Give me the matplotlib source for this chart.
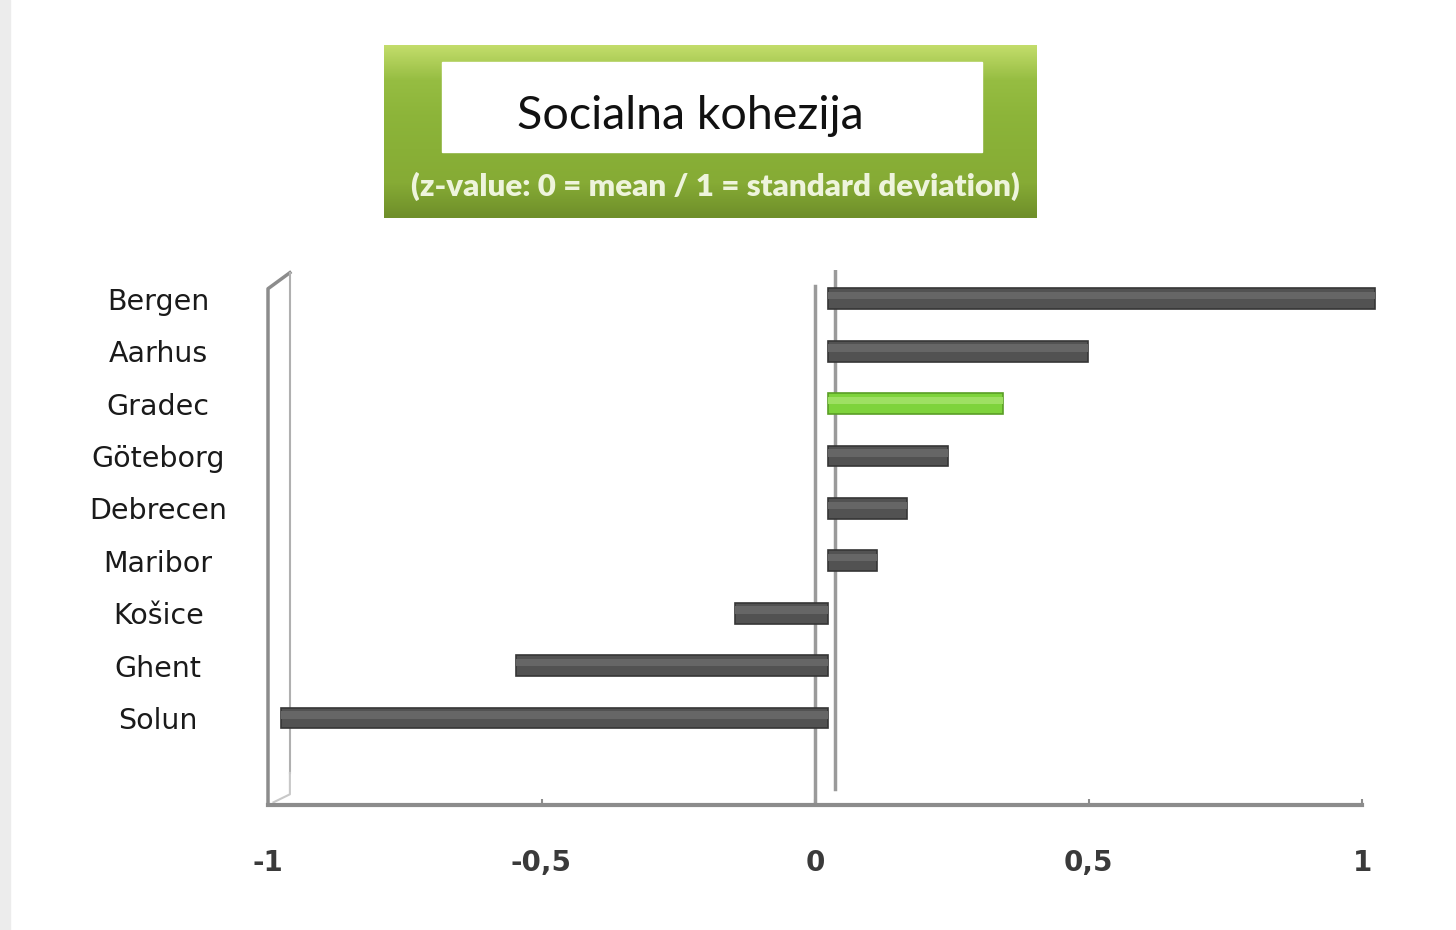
import numpy as np
import matplotlib
matplotlib.use("Agg")
import matplotlib.pyplot as plt
from matplotlib.patches import Rectangle

# data (z-values)
cities = ["Bergen", "Aarhus", "Gradec", "Göteborg", "Debrecen",
          "Maribor", "Košice", "Ghent", "Solun"]
zvals = [1.0, 0.475, 0.32, 0.22, 0.145, 0.09, -0.17, -0.57, -1.0]
highlight = "Gradec"
xticks = [-1, -0.5, 0, 0.5, 1]
xticklabels = ["-1", "-0,5", "0", "0,5", "1"]

depth = 0.024  # 3d offset of the bars behind the front axis

fig = plt.figure(figsize=(14.56, 9.3), dpi=100)

# light grey strip on left edge
fig.patches.append(Rectangle((0, 0), 0.007, 1, transform=fig.transFigure,
                             color="#ececec", zorder=0))

ax = fig.add_axes([268 / 1456, 1 - 805 / 930, 1094 / 1456, 535 / 930])

ypos = np.arange(len(cities))[::-1]
colors = ["#7ed33c" if c == highlight else "#525252" for c in cities]
hi_colors = ["#9ee063" if c == highlight else "#666666" for c in cities]
edge_colors = ["#5a9e26" if c == highlight else "#363636" for c in cities]

ax.barh(ypos, zvals, left=depth, height=0.40, color=colors,
        edgecolor=edge_colors, linewidth=1.2, zorder=3, clip_on=False)
# lighter upper strip to fake the rounded 3d look
ax.barh(ypos + 0.06, zvals, left=depth, height=0.14, color=hi_colors,
        linewidth=0, zorder=4, clip_on=False)

ax.set_xlim(-1, 1)
ax.set_ylim(-1.66, 8.55)

# zero lines (front and back wall)
ax.axvline(0, ymin=0, ymax=0.97, color="#9a9a9a", lw=2.5, zorder=2)
ax.axvline(0.037, ymin=0.03, ymax=1.0, color="#9a9a9a", lw=2.5, zorder=2)

# left wall, drawn as a double line with a bend at the top
ax.plot([0, 0, 0.02], [0, 0.965, 0.995], transform=ax.transAxes,
        color="#8c8c8c", lw=2.5, clip_on=False)
ax.plot([0.02, 0.02], [0.06, 0.995], transform=ax.transAxes,
        color="#b0b0b0", lw=1.5, clip_on=False)
ax.plot([0.02, 0.02, 0.005], [0.06, 0.02, 0.005], transform=ax.transAxes,
        color="#c8c8c8", lw=1.5, clip_on=False)

for s in ["top", "right", "left"]:
    ax.spines[s].set_visible(False)
ax.spines["bottom"].set_color("#8c8c8c")
ax.spines["bottom"].set_linewidth(3)

ax.set_xticks(xticks)
ax.set_xticklabels(xticklabels, fontsize=20, fontweight="bold", color="#3a3a3a")
ax.tick_params(axis="x", direction="in", length=4, width=1.5,
               color="#8c8c8c", pad=32)

ax.set_yticks(ypos)
ax.set_yticklabels(cities, fontsize=20.5, color="#1a1a1a", ha="center")
ax.tick_params(axis="y", length=0, pad=79)

# title box
tax = fig.add_axes([384 / 1456, 1 - 218 / 930, 653 / 1456, 173 / 930])
grad = np.linspace(0, 1, 100).reshape(-1, 1)
cmap = matplotlib.colors.LinearSegmentedColormap.from_list(
    "g", ["#c2dc6a", "#96bd42", "#8db53a", "#89b037", "#86ab35", "#6f8f2a"])
tax.imshow(grad, aspect="auto", cmap=cmap, extent=[0, 1, 0, 1], origin="upper")
tax.set_xlim(0, 1)
tax.set_ylim(0, 1)
tax.axis("off")

fig.patches.append(Rectangle((442 / 1456, 1 - 152 / 930), 540 / 1456, 90 / 930,
                             transform=fig.transFigure, color="white", zorder=5))
fig.text(690 / 1456, 1 - 116 / 930, "Socialna kohezija", fontsize=33.5,
         family="Lato", color="#111111", ha="center", va="center", zorder=6)
fig.text(715 / 1456, 1 - 186 / 930,
         "(z-value: 0 = mean / 1 = standard deviation)", fontsize=22.5,
         family="Lato", fontweight="heavy", color="#eef4dc",
         ha="center", va="center", zorder=6)

fig.savefig("out.png", dpi=100)
